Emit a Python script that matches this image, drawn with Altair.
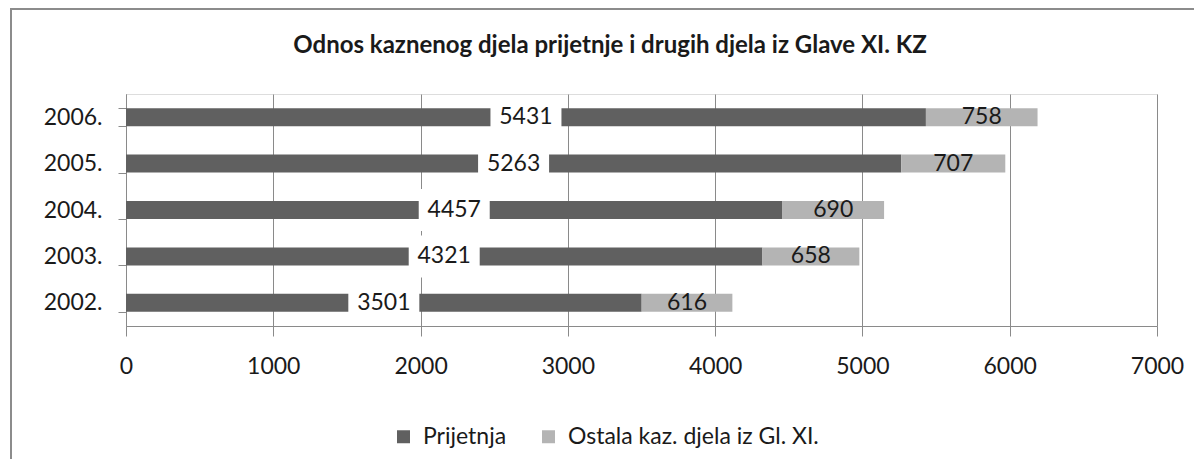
import altair as alt
import pandas as pd

# ---- data ----
years = ["2002.", "2003.", "2004.", "2005.", "2006."]
prijetnja = [3501, 4321, 4457, 5263, 5431]
ostala = [616, 658, 690, 707, 758]
series_names = ["Prijetnja", "Ostala kaz. djela iz Gl. XI."]
series_colors = ["#606060", "#b4b4b4"]
x_ticks = [0, 1000, 2000, 3000, 4000, 5000, 6000, 7000]
title_text = "Odnos kaznenog djela prijetnje i drugih djela iz Glave XI. KZ"

rows = []
for y, p, o in zip(years, prijetnja, ostala):
    rows.append({"year": y, "series": series_names[0], "value": p, "ord": 0})
    rows.append({"year": y, "series": series_names[1], "value": o, "ord": 1})
df = pd.DataFrame(rows)

FONT = "Lato"
GRID = "#8a8a8a"
year_order = list(reversed(years))

base = alt.Chart(df).transform_stack(
    stack="value", groupby=["year"], as_=["x0", "x1"],
    sort=[alt.SortField("ord", order="ascending")]
).transform_calculate(mid="(datum.x0 + datum.x1) / 2")

yenc = alt.Y("year:N", sort=year_order,
             scale=alt.Scale(paddingInner=0.612, paddingOuter=0.306),
             axis=alt.Axis(title=None, tickBand="extent", tickSize=8,
                           labelPadding=16, labelFontSize=23, labelFont=FONT,
                           labelColor="#1a1a1a", domainColor=GRID,
                           tickColor=GRID, grid=False))
xscale = alt.Scale(domain=[0, 7000], nice=False)

bars = base.mark_bar().encode(
    x=alt.X("x0:Q", scale=xscale,
            axis=alt.Axis(title=None, values=x_ticks, format="d", grid=True,
                          gridColor=GRID, domainColor=GRID, tickColor=GRID,
                          tickSize=10, labelPadding=19, labelFontSize=23,
                          labelFont=FONT, labelColor="#1a1a1a", labelFlush=False)),
    x2="x1:Q",
    y=yenc,
    color=alt.Color("series:N",
                    scale=alt.Scale(domain=series_names, range=series_colors),
                    legend=alt.Legend(title=None, orient="none", direction="horizontal",
                                      legendX=266, legendY=331,
                                      symbolType="square", symbolSize=169,
                                      symbolStrokeWidth=0, labelFontSize=23,
                                      labelFont=FONT, labelColor="#1a1a1a",
                                      labelLimit=0, labelOffset=8, columnPadding=30)),
)

boxes = base.transform_filter(alt.datum.ord == 0).mark_point(
    shape="M-1,-0.592L1,-0.592L1,0.592L-1,0.592Z", filled=True,
    fill="white", opacity=1, size=5041, strokeWidth=0
).encode(x=alt.X("mid:Q", scale=xscale), y=alt.Y("year:N", sort=year_order))

labels = base.mark_text(font=FONT, fontSize=23, color="#1a1a1a",
                        baseline="middle", align="center").encode(
    x=alt.X("mid:Q", scale=xscale),
    y=alt.Y("year:N", sort=year_order),
    text=alt.Text("value:Q", format="d"),
)

title = alt.Chart(pd.DataFrame({"t": [title_text]})).mark_text(
    font=FONT, fontSize=24, fontWeight="bold", color="#1a1a1a",
    align="center", baseline="middle"
).encode(text="t:N", x=alt.value(484), y=alt.value(-48))

frame_v = alt.Chart(df).mark_rule(color="#8c8c8c", strokeWidth=2).encode(
    x=alt.value(-115), y=alt.value(-85), y2=alt.value(400))
frame_h = alt.Chart(df).mark_rule(color="#8c8c8c", strokeWidth=2).encode(
    x=alt.value(-116), x2=alt.value(1200), y=alt.value(-85))

chart = alt.layer(bars, boxes, labels, title, frame_v, frame_h).properties(
    width=1031, height=232,
    autosize=alt.AutoSizeParams(type="none"),
    padding={"left": 118, "top": 86, "right": 37, "bottom": 133},
).configure_view(stroke=None).configure(background="white")

chart.save("out.html", embed_options={"renderer": "svg", "actions": False})
